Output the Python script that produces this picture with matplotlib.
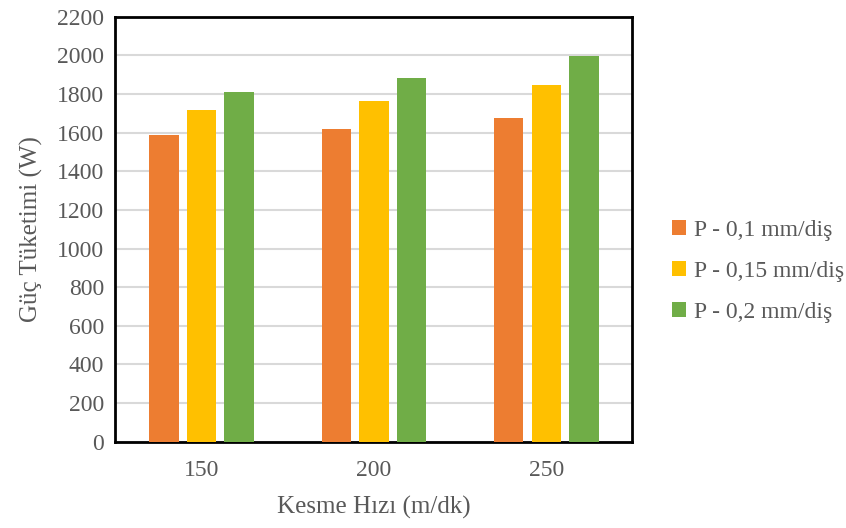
import matplotlib
matplotlib.use("Agg")
import matplotlib.pyplot as plt
import numpy as np

hizlar = ["150", "200", "250"]
seriler = ["P - 0,1 mm/diş", "P - 0,15 mm/diş", "P - 0,2 mm/diş"]
guc_01 = [1586, 1619, 1674]
guc_015 = [1716, 1765, 1849]
guc_02 = [1813, 1882, 1998]
renkler = ["#ED7D31", "#FFC000", "#70AD47"]

plt.rcParams['font.family'] = ['Liberation Serif', 'DejaVu Serif']
gri = '#595959'

fig = plt.figure(figsize=(8.46, 5.28), dpi=100)
ax = fig.add_axes([0.1365, 0.1638, 0.7475 - 0.1365, 0.968 - 0.1638])

x = np.arange(len(hizlar))
genislik = 0.171
adim = 0.218
for i, (deger, renk, ad) in enumerate(zip([guc_01, guc_015, guc_02], renkler, seriler)):
    ax.bar(x + (i - 1) * adim, deger, genislik, color=renk, label=ad, zorder=3)

ax.set_xlim(-0.5, 2.5)
ax.set_ylim(0, 2200)
ax.set_yticks(range(0, 2201, 200))
ax.set_xticks(x)
ax.set_xticklabels(hizlar)
ax.yaxis.grid(True, color='#d9d9d9', linewidth=1.5, zorder=0)
for s in ax.spines.values():
    s.set_linewidth(2)
    s.set_color('black')
ax.tick_params(length=0, labelsize=17, labelcolor=gri)
ax.tick_params(axis='x', pad=13)
ax.tick_params(axis='y', pad=8)

ax.set_xlabel('Kesme Hızı (m/dk)', fontsize=18, color=gri, labelpad=11)
ax.set_ylabel('Güç Tüketimi (W)', fontsize=18, color=gri, labelpad=10)

ax.legend(loc='center left', bbox_to_anchor=(1.035, 0.40), frameon=False,
          fontsize=17, labelcolor=gri, handlelength=0.6, handleheight=0.6,
          handletextpad=0.35, labelspacing=0.85)

plt.savefig('out.png', dpi=100)
